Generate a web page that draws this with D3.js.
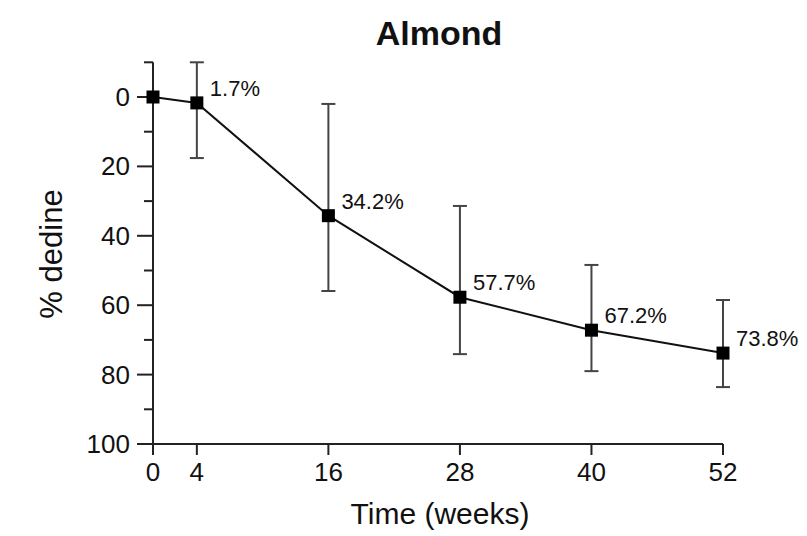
<!DOCTYPE html>
<meta charset="utf-8">
<html>
  <head>
    <style>
      body { margin: 0; background: #fff; }
      text { font-family: "Liberation Sans", Arial, sans-serif; fill: #111; }
      .axis path, .axis line { stroke: #222; stroke-width: 2px; }
    </style>
    <script src="https://d3js.org/d3.v7.min.js"></script>
  </head>
  <body>
    <script>

      // data
      var weeks = [0, 4, 16, 28, 40, 52];
      var decline = [0, 1.7, 34.2, 57.7, 67.2, 73.8];
      var errTop = [0, -10, 2.0, 31.4, 48.4, 58.5];
      var errBottom = [0, 17.6, 55.9, 74.1, 79.0, 83.6];
      var labels = ["", "1.7%", "34.2%", "57.7%", "67.2%", "73.8%"];
      var xTicks = [0, 4, 16, 28, 40, 52];
      var yTicks = [0, 20, 40, 60, 80, 100];
      var yMinor = [-10, 10, 30, 50, 70, 90];

      var width = 807,
          height = 536;

      var svg = d3.select('body').append('svg')
          .attr('width', width)
          .attr('height', height);

      var x = d3.scaleLinear().domain([0, 52]).range([153, 723]);
      var y = d3.scaleLinear().domain([0, 100]).range([97, 444]);

      // title
      svg.append("text")
          .attr("x", 439).attr("y", 45)
          .attr("text-anchor", "middle")
          .style("font-size", "34px")
          .style("font-weight", "bold")
          .text("Almond");

      // y axis
      var yAxis = svg.append("g").attr("class", "axis");
      yAxis.append("line")
          .attr("x1", x(0)).attr("x2", x(0))
          .attr("y1", y(-10)).attr("y2", y(100) + 11);
      yAxis.selectAll(".ymaj").data(yTicks).enter().append("line")
          .attr("x1", x(0) - 16).attr("x2", x(0))
          .attr("y1", function(d) { return y(d); })
          .attr("y2", function(d) { return y(d); });
      yAxis.selectAll(".ymin").data(yMinor).enter().append("line")
          .attr("x1", x(0) - 9).attr("x2", x(0))
          .attr("y1", function(d) { return y(d); })
          .attr("y2", function(d) { return y(d); });
      yAxis.selectAll(".ylab").data(yTicks).enter().append("text")
          .attr("x", x(0) - 23)
          .attr("y", function(d) { return y(d) + 9; })
          .attr("text-anchor", "end")
          .style("font-size", "26px")
          .text(function(d) { return d; });

      // x axis
      var xAxis = svg.append("g").attr("class", "axis");
      xAxis.append("line")
          .attr("x1", x(0) - 16).attr("x2", x(52))
          .attr("y1", y(100)).attr("y2", y(100));
      xAxis.selectAll(".xmaj").data(xTicks).enter().append("line")
          .attr("x1", function(d) { return x(d); })
          .attr("x2", function(d) { return x(d); })
          .attr("y1", y(100)).attr("y2", y(100) + 11);
      xAxis.selectAll(".xlab").data(xTicks).enter().append("text")
          .attr("x", function(d) { return x(d); })
          .attr("y", y(100) + 37)
          .attr("text-anchor", "middle")
          .style("font-size", "26px")
          .text(function(d) { return d; });

      svg.append("text")
          .attr("x", 440).attr("y", 524)
          .attr("text-anchor", "middle")
          .style("font-size", "30px")
          .text("Time (weeks)");

      svg.append("text")
          .attr("transform", "translate(62,254)rotate(-90)")
          .attr("text-anchor", "middle")
          .style("font-size", "31px")
          .text("% dedine");

      var pts = weeks.map(function(w, i) {
          return {w: w, v: decline[i], lo: errTop[i], hi: errBottom[i], label: labels[i]};
      });

      // error bars
      var eb = svg.append("g").selectAll("g").data(pts.filter(function(d) { return d.hi > d.lo; }))
          .enter().append("g")
          .attr("stroke", "#444").attr("stroke-width", 2);
      eb.append("line")
          .attr("x1", function(d) { return x(d.w); }).attr("x2", function(d) { return x(d.w); })
          .attr("y1", function(d) { return y(d.lo); }).attr("y2", function(d) { return y(d.hi); });
      eb.append("line")
          .attr("x1", function(d) { return x(d.w) - 7; }).attr("x2", function(d) { return x(d.w) + 7; })
          .attr("y1", function(d) { return y(d.lo); }).attr("y2", function(d) { return y(d.lo); });
      eb.append("line")
          .attr("x1", function(d) { return x(d.w) - 7; }).attr("x2", function(d) { return x(d.w) + 7; })
          .attr("y1", function(d) { return y(d.hi); }).attr("y2", function(d) { return y(d.hi); });

      // line
      var line = d3.line()
          .x(function(d) { return x(d.w); })
          .y(function(d) { return y(d.v); });
      svg.append("path")
          .datum(pts)
          .attr("fill", "none")
          .attr("stroke", "#111")
          .attr("stroke-width", 2)
          .attr("d", line);

      // markers
      svg.selectAll(".pt").data(pts).enter().append("rect")
          .attr("x", function(d) { return x(d.w) - 6.5; })
          .attr("y", function(d) { return y(d.v) - 6.5; })
          .attr("width", 13).attr("height", 13)
          .attr("fill", "#000");

      // value labels
      svg.selectAll(".vlab").data(pts).enter().append("text")
          .attr("x", function(d) { return x(d.w) + 13; })
          .attr("y", function(d) { return y(d.v) - 7; })
          .style("font-size", "22px")
          .text(function(d) { return d.label; });

    </script>
  </body>
</html>
